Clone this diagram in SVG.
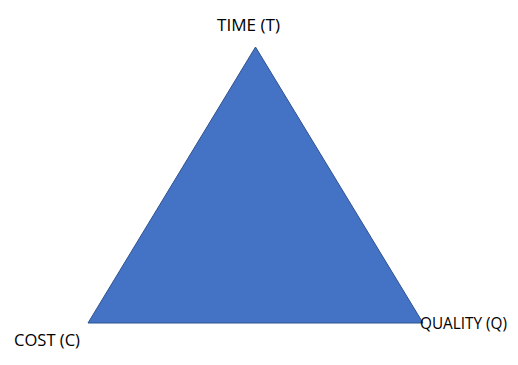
<svg xmlns="http://www.w3.org/2000/svg" width="518" height="365" viewBox="0 0 518 365">
<style>
.lbl{font-family:"Open Sans","Liberation Sans",sans-serif;font-size:16px;fill:#000}
</style>
<rect width="518" height="365" fill="#fff"/>
<g id="triangle">
<polygon points="255.5,47 88,323 423,323" fill="#4472C4" stroke="#2F528F" stroke-width="1"/>
</g>
<g id="time"><text class="lbl" x="248.5" y="31" text-anchor="middle" textLength="63" lengthAdjust="spacingAndGlyphs">TIME (T)</text></g>
<g id="cost"><text class="lbl" x="47" y="346" text-anchor="middle" textLength="66" lengthAdjust="spacingAndGlyphs">COST (C)</text></g>
<g id="quality"><text class="lbl" x="463.5" y="329" text-anchor="middle" textLength="87" lengthAdjust="spacingAndGlyphs">QUALITY (Q)</text></g>
<g id="connectors"></g>
</svg>
